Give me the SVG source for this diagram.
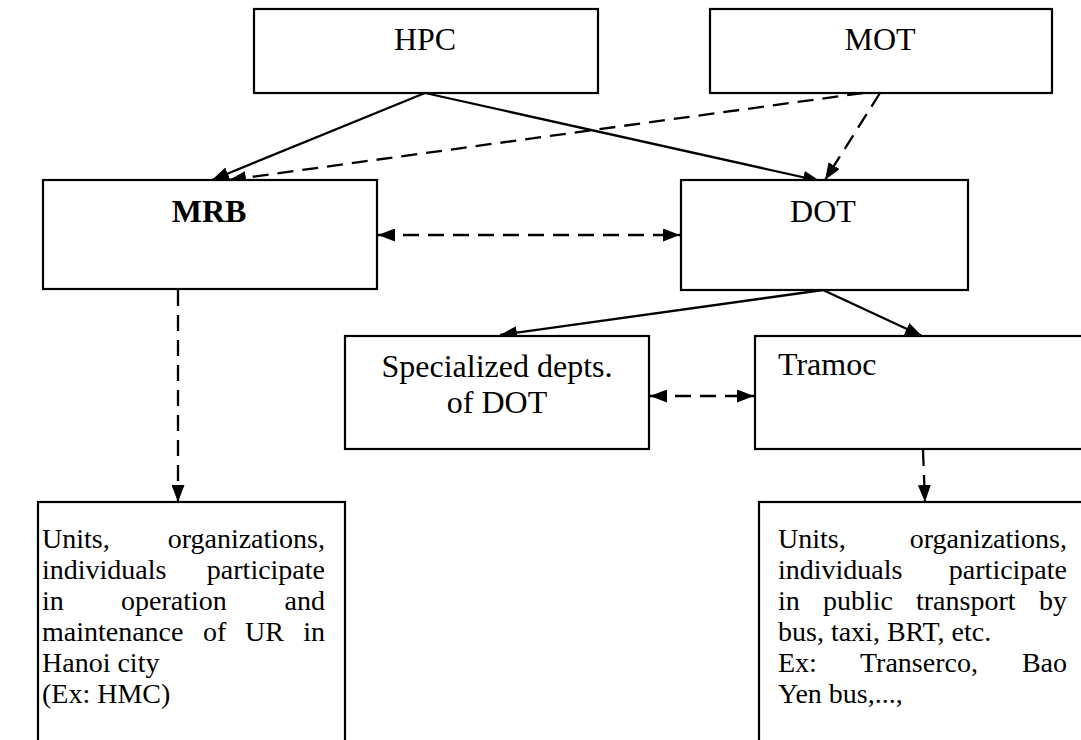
<svg xmlns="http://www.w3.org/2000/svg" width="1081" height="740" viewBox="0 0 1081 740">
  <style>
    .box { fill: #ffffff; stroke: #000000; stroke-width: 2.2; }
    .lbl { font-family: "Liberation Serif", "Times New Roman", serif; font-size: 32px; fill: #000000; }
    .txt { font-family: "Liberation Serif", "Times New Roman", serif; font-size: 28px; fill: #000000; }
    .mid { text-anchor: middle; }
    .end { text-anchor: end; }
    .solid { fill: none; stroke: #000000; stroke-width: 2.3; }
    .dash { fill: none; stroke: #000000; stroke-width: 2.3; stroke-dasharray: 16 9; }
  </style>
  <defs>
    <!-- filled triangular head; reversed at the start for two-way links -->
    <marker id="arrow" viewBox="0 0 17 13" refX="17" refY="6.5" markerWidth="17" markerHeight="13" markerUnits="userSpaceOnUse" orient="auto-start-reverse">
      <path d="M0,0 L17,6.5 L0,13 Z" fill="#000000"/>
    </marker>
  </defs>

  <rect width="1081" height="740" fill="#ffffff"/>

  <!-- connectors -->
  <g id="connectors">
    <line class="solid" x1="425" y1="93" x2="212" y2="180" marker-end="url(#arrow)"/>
    <line class="solid" x1="425" y1="93" x2="820" y2="181" marker-end="url(#arrow)"/>
    <line class="dash" x1="863" y1="93" x2="229" y2="180" marker-end="url(#arrow)"/>
    <line class="dash" x1="880" y1="93" x2="825" y2="180" marker-end="url(#arrow)"/>
    <line class="dash" x1="378" y1="235" x2="680" y2="235" marker-start="url(#arrow)" marker-end="url(#arrow)"/>
    <line class="solid" x1="823" y1="290" x2="500" y2="335" marker-end="url(#arrow)"/>
    <line class="solid" x1="823" y1="290" x2="922" y2="336" marker-end="url(#arrow)"/>
    <line class="dash" x1="650" y1="396" x2="754" y2="396" marker-start="url(#arrow)" marker-end="url(#arrow)"/>
    <line class="dash" x1="178" y1="290" x2="178" y2="502" marker-end="url(#arrow)"/>
    <line class="dash" x1="923" y1="450" x2="925" y2="502" marker-end="url(#arrow)"/>
  </g>

  <!-- top level -->
  <g id="hpc">
    <rect class="box" x="254" y="9" width="344" height="84"/>
    <text class="lbl mid" x="425" y="50">HPC</text>
  </g>
  <g id="mot">
    <rect class="box" x="710" y="9" width="342" height="84"/>
    <text class="lbl mid" x="880" y="50">MOT</text>
  </g>

  <!-- second level -->
  <g id="mrb">
    <rect class="box" x="43" y="180" width="334" height="109"/>
    <text class="lbl mid" x="209" y="222" font-weight="bold">MRB</text>
  </g>
  <g id="dot">
    <rect class="box" x="681" y="180" width="287" height="110"/>
    <text class="lbl mid" x="823" y="222">DOT</text>
  </g>

  <!-- third level -->
  <g id="specialized">
    <rect class="box" x="345" y="336" width="304" height="113"/>
    <text class="lbl mid" x="497" y="377">Specialized depts.</text>
    <text class="lbl mid" x="497" y="413">of DOT</text>
  </g>
  <g id="tramoc">
    <rect class="box" x="755" y="336" width="340" height="113"/>
    <text class="lbl" x="778" y="375" font-size="27">Tramoc</text>
  </g>

  <!-- operators (justified paragraphs) -->
  <g id="ur-units">
    <rect class="box" x="38" y="502" width="307" height="260"/>
    <text class="txt" y="548"><tspan x="42">Units,</tspan><tspan class="end" x="325">organizations,</tspan></text>
    <text class="txt" y="579"><tspan x="42">individuals</tspan><tspan class="end" x="325">participate</tspan></text>
    <text class="txt" y="610"><tspan x="42">in</tspan><tspan x="121">operation</tspan><tspan class="end" x="325">and</tspan></text>
    <text class="txt" y="641"><tspan x="42">maintenance</tspan><tspan x="203">of</tspan><tspan x="245">UR</tspan><tspan class="end" x="325">in</tspan></text>
    <text class="txt" x="42" y="672">Hanoi city</text>
    <text class="txt" x="42" y="703">(Ex: HMC)</text>
  </g>
  <g id="pt-units">
    <rect class="box" x="759" y="502" width="340" height="260"/>
    <text class="txt" y="548"><tspan x="778">Units,</tspan><tspan class="end" x="1067">organizations,</tspan></text>
    <text class="txt" y="579"><tspan x="778">individuals</tspan><tspan class="end" x="1067">participate</tspan></text>
    <text class="txt" y="610"><tspan x="778">in</tspan><tspan x="823">public</tspan><tspan x="916">transport</tspan><tspan class="end" x="1067">by</tspan></text>
    <text class="txt" x="778" y="641">bus, taxi, BRT, etc.</text>
    <text class="txt" y="672"><tspan x="778">Ex:</tspan><tspan x="860">Transerco,</tspan><tspan class="end" x="1067">Bao</tspan></text>
    <text class="txt" x="778" y="703">Yen bus,...,</text>
  </g>
</svg>
